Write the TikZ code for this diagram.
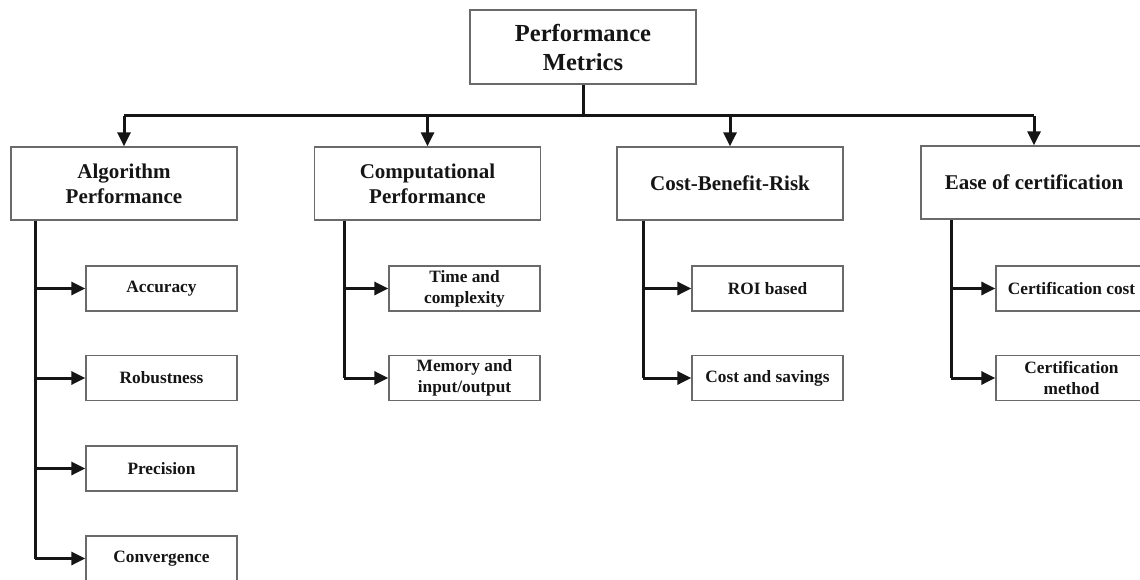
\documentclass[tikz,border=0pt]{standalone}
\usepackage{fontspec}
\setmainfont{Liberation Serif}
\usetikzlibrary{arrows.meta}
\definecolor{boxline}{HTML}{6A6A6A}
\definecolor{ink}{HTML}{151515}
\begin{document}
\begin{tikzpicture}[x=1pt,y=-1pt,
  box/.style={draw=boxline,line width=1.3pt,fill=white,align=center,text=ink,
    inner sep=2pt,font=\bfseries},
  rootbox/.style={box,minimum width=226pt,minimum height=74pt,
    font=\fontsize{24.5}{29}\selectfont\bfseries},
  catbox/.style={box,minimum width=226pt,minimum height=73pt,
    font=\fontsize{21}{25}\selectfont\bfseries},
  itembox/.style={box,minimum width=151pt,minimum height=45pt,
    font=\fontsize{17.3}{21}\selectfont\bfseries},
  line/.style={draw=ink,line width=3pt},
  arr/.style={line,-{Triangle[length=14pt,width=13pt]}}]
\useasboundingbox (0,0) rectangle (1140,580);
\clip (0,0) rectangle (1140,580);

% root
\node[rootbox] (root) at (583,47) {Performance\\Metrics};

% categories
\node[catbox] (alg)  at (124,183.5)  {Algorithm\\Performance};
\node[catbox] (comp) at (427.5,183.5) {Computational\\Performance};
\node[catbox] (cbr)  at (730,183.5)  {Cost-Benefit-Risk};
\node[catbox] (ease) at (1034,182.5) {Ease of certification};

% items
\node[itembox] (acc)  at (161.5,288.5) {Accuracy};
\node[itembox] (rob)  at (161.5,378)   {Robustness};
\node[itembox] (prec) at (161.5,468.5) {Precision};
\node[itembox] (conv) at (161.5,558.5) {Convergence};

\node[itembox] (time) at (464.5,288.5) {Time and\\complexity};
\node[itembox] (mem)  at (464.5,378)   {Memory and\\input/output};

\node[itembox] (roi)  at (767.5,288.5) {ROI based};
\node[itembox] (save) at (767.5,378)   {Cost and savings};

\node[itembox] (ccost) at (1071.5,288.5) {Certification cost};
\node[itembox] (cmeth) at (1071.5,378)   {Certification\\method};

% bus from the root to the categories
\coordinate (bus) at (0,116);
\draw[line] (root.south) -- (root.south |- bus);
\draw[line] (alg.north |- bus) -- (ease.north |- bus);
\foreach \n in {alg,comp,cbr,ease}
  \draw[arr] (\n.north |- bus) -- (\n.north);

% spines from each category to its items
\coordinate (sa) at (35,0);
\coordinate (sc) at (344,0);
\coordinate (sb) at (643,0);
\coordinate (se) at (951,0);
\draw[line] (alg.south -| sa) -- (sa |- conv.west);
\foreach \n in {acc,rob,prec,conv}
  \draw[arr] (sa |- \n.west) -- (\n.west);
\draw[line] (comp.south -| sc) -- (sc |- mem.west);
\foreach \n in {time,mem}
  \draw[arr] (sc |- \n.west) -- (\n.west);
\draw[line] (cbr.south -| sb) -- (sb |- save.west);
\foreach \n in {roi,save}
  \draw[arr] (sb |- \n.west) -- (\n.west);
\draw[line] (ease.south -| se) -- (se |- cmeth.west);
\foreach \n in {ccost,cmeth}
  \draw[arr] (se |- \n.west) -- (\n.west);
\end{tikzpicture}
\end{document}
